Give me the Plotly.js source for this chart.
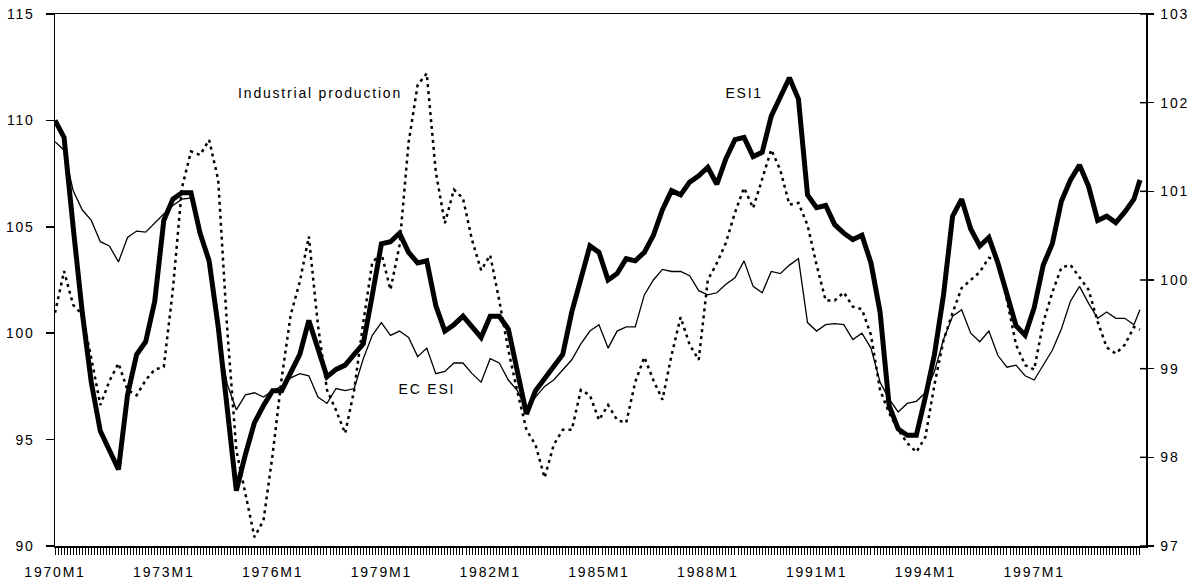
<!DOCTYPE html>
<html><head><meta charset="utf-8">
<script src="https://cdn.plot.ly/plotly-3.0.1.min.js"></script>
<style>
html,body{margin:0;padding:0;background:#fff;}
#chart{width:1196px;height:584px;}
#chart text{letter-spacing:1.8px;}
</style></head><body><div id="chart"></div>
<script>
// Monthly categories 1970M1 .. 1999M12
const startYear = 1970, endYear = 1999;
const months = [];
for (let y = startYear; y <= endYear; y++) for (let m = 1; m <= 12; m++) months.push(y + 'M' + m);
// Sampled periods (quarterly readings + final month)
const periods = months.filter((_, i) => i % 3 === 0).concat(['1999M12']);

const tickLabels = ['1970M1','1973M1','1976M1','1979M1','1982M1','1985M1','1988M1','1991M1','1994M1','1997M1'];

// ESI1 (left axis)
const esi1 = [110.0,109.2,105.0,101.0,97.7,95.4,94.5,93.6,97.1,99.0,
 99.6,101.5,105.3,106.3,106.6,106.6,104.7,103.4,100.3,96.4,
 92.6,94.3,95.8,96.6,97.3,97.3,98.1,99.0,100.6,99.2,
 97.95,98.3,98.5,99.0,99.5,101.8,104.2,104.3,104.7,103.8,
 103.3,103.4,101.3,100.1,100.4,100.8,100.3,99.8,100.8,100.8,
 100.2,98.1,96.2,97.3,97.9,98.4,99.0,101.0,102.6,104.1,
 103.8,102.5,102.8,103.5,103.4,103.8,104.6,105.8,106.7,106.5,
 107.1,107.4,107.8,107.0,108.2,109.1,109.2,108.3,108.5,110.2,
 111.1,112.0,111.0,106.5,105.9,106.0,105.1,104.7,104.4,104.6,
 103.3,101.0,96.6,95.5,95.2,95.2,97.0,99.0,101.8,105.5,
 106.3,104.9,104.1,104.5,103.3,101.9,100.35,99.9,101.2,103.2,
 104.2,106.2,107.2,107.9,106.9,105.3,105.5,105.2,105.7,106.3,
 107.2];

// EC ESI (left axis)
const ecEsi = [109.0,108.6,106.7,105.8,105.3,104.3,104.1,103.35,104.5,104.8,
 104.75,105.2,105.6,106.0,106.3,106.35,104.9,103.2,100.0,97.6,
 96.4,97.1,97.2,97.0,97.3,97.5,97.9,98.1,98.0,97.0,
 96.7,97.4,97.3,97.4,98.8,99.9,100.5,99.9,100.1,99.8,
 98.9,99.3,98.1,98.2,98.6,98.6,98.1,97.7,98.8,98.6,
 97.8,97.3,96.4,97.0,97.5,97.8,98.3,98.75,99.5,100.1,
 100.4,99.3,100.1,100.3,100.3,101.8,102.5,103.0,102.9,102.9,
 102.7,102.0,101.8,101.9,102.3,102.6,103.4,102.2,101.9,102.9,
 102.8,103.2,103.5,100.5,100.1,100.4,100.45,100.4,99.7,100.0,
 99.3,97.7,96.9,96.3,96.7,96.8,97.2,98.2,99.7,100.8,
 101.1,100.0,99.6,100.1,98.95,98.4,98.5,98.0,97.8,98.5,
 99.2,100.2,101.5,102.2,101.4,100.7,101.0,100.7,100.7,100.4,
 101.1];

// Industrial production (right axis)
const indProd = [99.63,100.1,99.72,99.61,99.12,98.59,98.86,99.06,98.76,98.70,
 98.87,98.99,99.02,99.89,101.04,101.45,101.41,101.58,101.13,99.44,
 98.08,97.58,97.10,97.29,98.03,98.89,99.61,99.98,100.49,99.49,
 98.76,98.53,98.27,98.76,99.52,100.20,100.30,99.89,100.39,101.55,
 102.20,102.33,101.22,100.64,101.02,100.92,100.45,100.11,100.28,99.77,
 99.21,98.74,98.31,98.14,97.77,98.14,98.31,98.31,98.76,98.70,
 98.42,98.59,98.42,98.39,98.85,99.13,98.87,98.65,99.15,99.58,
 99.27,99.10,100.00,100.19,100.42,100.76,101.04,100.81,101.13,101.47,
 101.24,100.85,100.87,100.62,100.17,99.77,99.77,99.86,99.70,99.67,
 99.38,98.76,98.50,98.31,98.16,98.06,98.23,98.82,99.32,99.63,
 99.91,100.00,100.09,100.25,100.23,99.77,99.27,99.04,98.99,99.52,
 99.86,100.14,100.17,100.03,99.89,99.53,99.24,99.17,99.27,99.47,
 99.44];

const rightTicks = [97, 98, 99, 100, 101, 102, 103];

const traces = [
  {x: periods, y: indProd, yaxis: 'y2', type: 'scatter', mode: 'lines', name: 'Industrial production',
   line: {color: '#000', width: 2.5, dash: '3px,4px'}},
  {x: periods, y: ecEsi, type: 'scatter', mode: 'lines', name: 'EC ESI',
   line: {color: '#000', width: 1.3}},
  {x: periods, y: esi1, type: 'scatter', mode: 'lines', name: 'ESI1',
   line: {color: '#000', width: 5}}
];

const shapes = rightTicks.map(v => ({
  type: 'line', xref: 'paper', yref: 'y2', xsizemode: 'pixel', xanchor: 1,
  x0: -6, x1: 0, y0: v, y1: v, line: {color: '#000', width: 1.5}
}));

const layout = {
  width: 1196, height: 584,
  margin: {l: 55, r: 50, t: 14, b: 38},
  paper_bgcolor: '#fff', plot_bgcolor: '#fff',
  showlegend: false,
  font: {family: '"Liberation Sans", Arial, sans-serif', size: 14, color: '#000'},
  xaxis: {
    type: 'category', categoryorder: 'array', categoryarray: months,
    range: [0, 361],
    tickmode: 'array', tickvals: months,
    ticktext: months.map(m => tickLabels.includes(m) ? m : ''),
    ticks: 'outside', ticklen: 7, tickwidth: 1, tickcolor: '#000',
    showline: true, linecolor: '#000', linewidth: 1.5, mirror: true,
    showgrid: false, zeroline: false, tickangle: 0, ticklabelstandoff: 6,
    tickfont: {size: 14}
  },
  yaxis: {
    range: [90, 115], tick0: 90, dtick: 5,
    ticks: 'outside', ticklen: 8, tickwidth: 1.5, tickcolor: '#000',
    showline: true, linecolor: '#000', linewidth: 1.5,
    showgrid: false, zeroline: false, ticklabelstandoff: 8
  },
  yaxis2: {
    overlaying: 'y', side: 'right',
    range: [97, 103], tick0: 97, dtick: 1,
    ticks: 'outside', ticklen: 6, tickwidth: 1.5, tickcolor: '#000',
    showline: true, linecolor: '#000', linewidth: 1.5,
    showgrid: false, zeroline: false, ticklabelstandoff: 4
  },
  shapes: shapes,
  annotations: [
    {x: 87.7, y: 111.3, xref: 'x', yref: 'y', text: 'Industrial production', showarrow: false, font: {size: 14}},
    {x: 228.3, y: 111.3, xref: 'x', yref: 'y', text: 'ESI1', showarrow: false, font: {size: 14}},
    {x: 123.0, y: 97.4, xref: 'x', yref: 'y', text: 'EC ESI', showarrow: false, font: {size: 14}}
  ]
};

Plotly.newPlot('chart', traces, layout, {staticPlot: true, displayModeBar: false});
</script></body></html>
